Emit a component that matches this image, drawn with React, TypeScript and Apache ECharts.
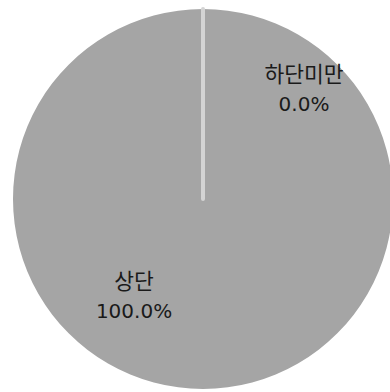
import React, { useEffect, useRef } from "react";
import * as echarts from "echarts";

const categories = ["상단", "하단미만"];
const values = [100, 0];
const sliceColors = ["#a5a5a5", "#a5a5a5"];
const labelPositions = [
  [134, 295],
  [304, 88],
];

export default function App() {
  const ref = useRef<HTMLDivElement>(null);
  useEffect(() => {
    document.body.style.margin = "0";
    const chart = echarts.init(ref.current!, null, { renderer: "svg" });
    chart.setOption({
      animation: false,
      series: [
        {
          type: "pie",
          center: [203, 199],
          radius: [0, 190],
          startAngle: 90,
          clockwise: true,
          avoidLabelOverlap: false,
          data: categories.map((name, i) => ({
            name,
            value: values[i],
            itemStyle:
              i === 1
                ? { color: sliceColors[i], borderColor: "#d4d4d4", borderWidth: 4 }
                : { color: sliceColors[i], borderWidth: 0 },
          })),
          label: {
            show: true,
            position: "inside",
            formatter: (p: any) => `{h|${p.name}}\n{n|${(p.percent ?? 0).toFixed(1)}%}`,
            color: "#1a1a1a",
            align: "center",
            rich: {
              h: {
                fontSize: 21.5,
                lineHeight: 31,
                color: "#1a1a1a",
                fontFamily: "'Noto Sans CJK KR', sans-serif",
                align: "center",
              },
              n: {
                fontSize: 20,
                lineHeight: 31,
                color: "#1a1a1a",
                fontFamily: "'DejaVu Sans', sans-serif",
                align: "center",
              },
            },
          },
          labelLine: { show: false },
          labelLayout: (params: any) => {
            const pos = labelPositions[params.dataIndex];
            return { x: pos[0], y: pos[1], align: "center", verticalAlign: "middle" };
          },
          emphasis: { disabled: true },
        },
      ],
    });
    return () => chart.dispose();
  }, []);
  return <div ref={ref} style={{ width: 390, height: 392 }} />;
}
